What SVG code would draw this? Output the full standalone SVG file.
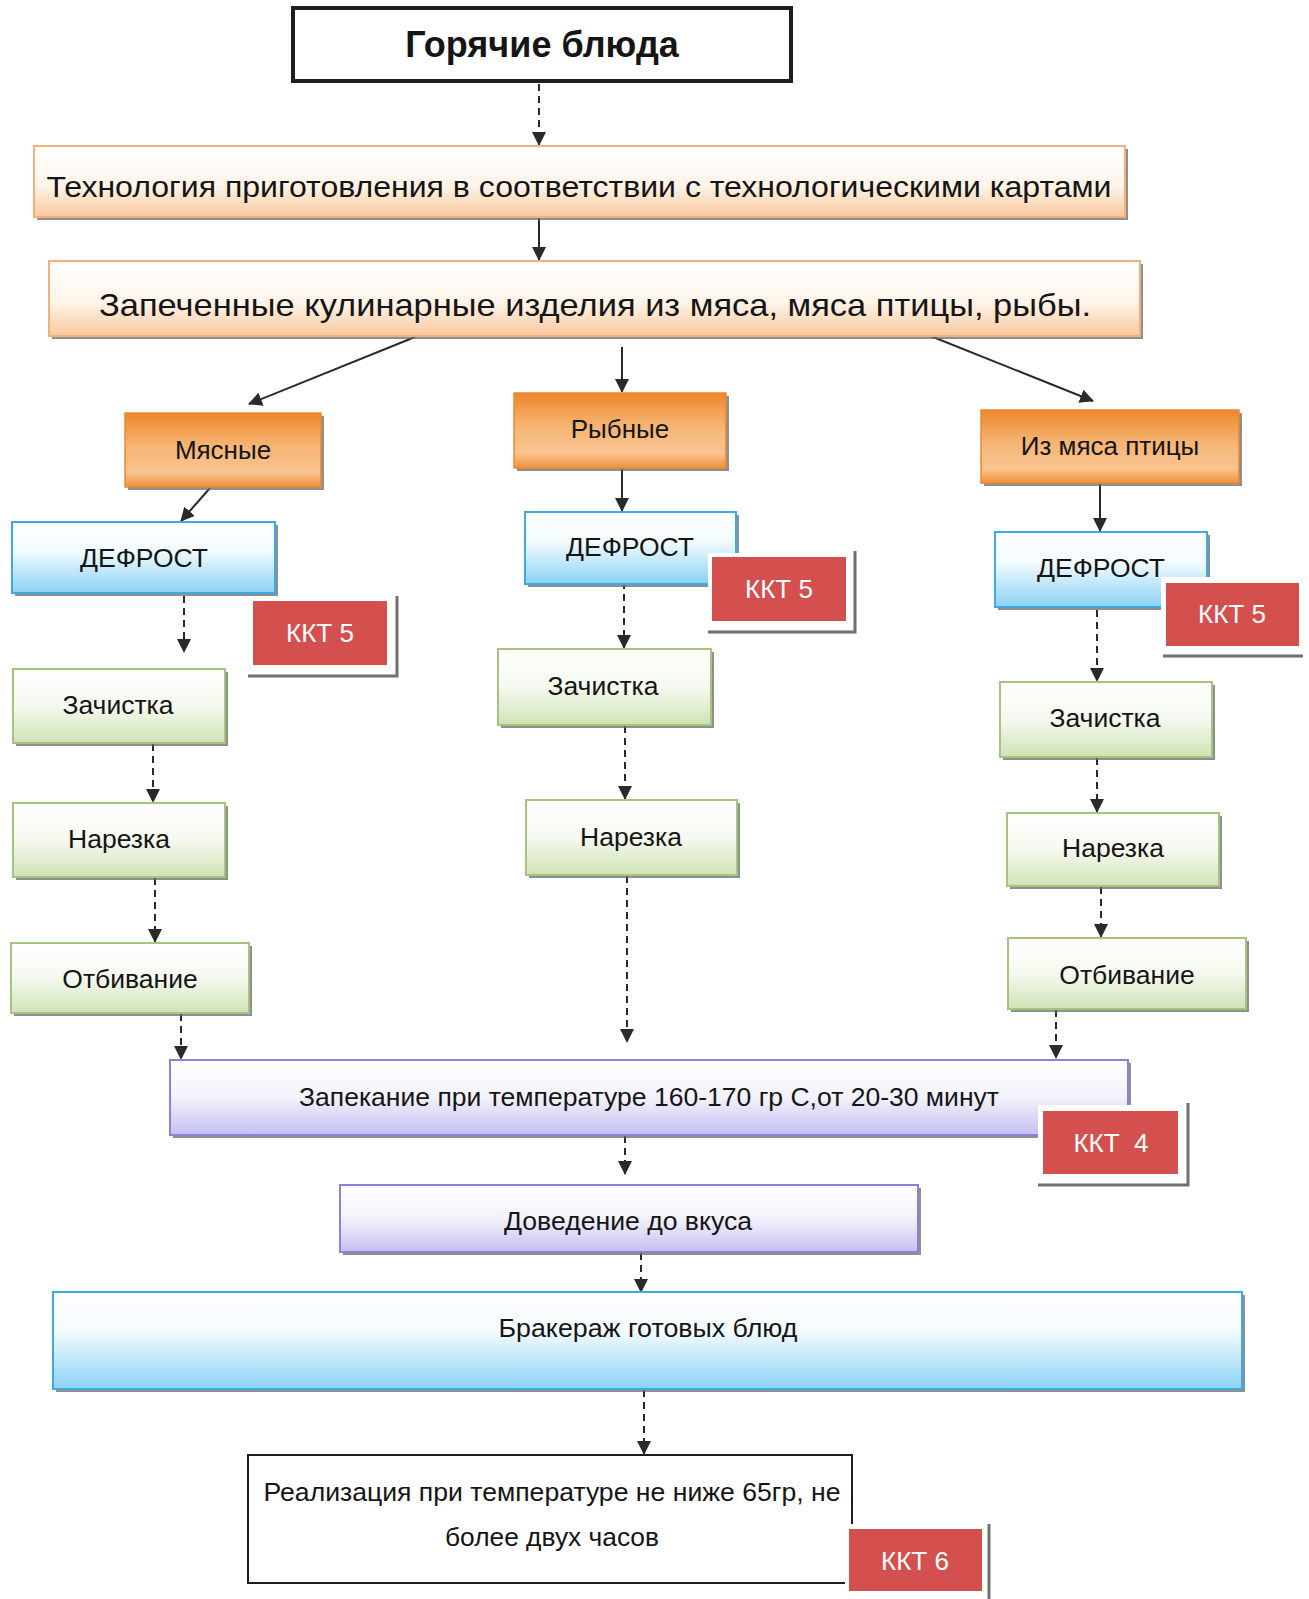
<svg xmlns="http://www.w3.org/2000/svg" width="1309" height="1599" viewBox="0 0 1309 1599">
  <style>
    text { font-family: "Liberation Sans", Arial, sans-serif; fill: #151515; text-anchor: middle; }
    .title { font-size: 36px; font-weight: bold; }
    .big { font-size: 30px; }
    .big2 { font-size: 32px; }
    .cat { font-size: 26px; }
    .step { font-size: 26.5px; }
    .mid { font-size: 26px; }
    .kkt { font-size: 26px; fill: #ffffff; }
    .shadow { fill: #6a6a6a; opacity: 0.75; }
    .peach { fill: url(#gPeach); stroke: #f2b07e; stroke-width: 2; }
    .orange { fill: url(#gOrange); stroke: #e98a30; stroke-width: 1.5; }
    .blue { fill: url(#gBlue); stroke: #3eaae4; stroke-width: 2; }
    .green { fill: url(#gGreen); stroke: #a6c47f; stroke-width: 2; }
    .purple { fill: url(#gPurple); stroke: #8a82da; stroke-width: 2; }
    .red { fill: #d4504f; }
    .frame { fill: #ffffff; }
    .frameEdge { stroke: #707070; stroke-width: 3; fill: none; }
    .solid { stroke: #2a2a2a; stroke-width: 2; fill: none; marker-end: url(#arrow); }
    .dash { stroke: #2a2a2a; stroke-width: 2; fill: none; stroke-dasharray: 7 5; marker-end: url(#arrow); }
  </style>
  <defs>
    <linearGradient id="gPeach" x1="0" y1="0" x2="0" y2="1">
      <stop offset="0" stop-color="#ffffff"/>
      <stop offset="0.55" stop-color="#fff4ea"/>
      <stop offset="1" stop-color="#f9c89c"/>
    </linearGradient>
    <linearGradient id="gOrange" x1="0" y1="0" x2="0" y2="1">
      <stop offset="0" stop-color="#ee862a"/>
      <stop offset="0.45" stop-color="#f6b575"/>
      <stop offset="0.8" stop-color="#f8c490"/>
      <stop offset="1" stop-color="#f0903a"/>
    </linearGradient>
    <linearGradient id="gBlue" x1="0" y1="0" x2="0" y2="1">
      <stop offset="0" stop-color="#ffffff"/>
      <stop offset="0.4" stop-color="#f3fbff"/>
      <stop offset="1" stop-color="#8cd2f4"/>
    </linearGradient>
    <linearGradient id="gGreen" x1="0" y1="0" x2="0" y2="1">
      <stop offset="0" stop-color="#ffffff"/>
      <stop offset="0.5" stop-color="#f5f9ef"/>
      <stop offset="1" stop-color="#cfe3b6"/>
    </linearGradient>
    <linearGradient id="gPurple" x1="0" y1="0" x2="0" y2="1">
      <stop offset="0" stop-color="#ffffff"/>
      <stop offset="0.5" stop-color="#f3f2fc"/>
      <stop offset="1" stop-color="#c5bef0"/>
    </linearGradient>
    <marker id="arrow" viewBox="0 0 14 14" refX="13" refY="7" markerWidth="14" markerHeight="14" markerUnits="userSpaceOnUse" orient="auto">
      <path d="M0,0 L14,7 L0,14 Z" fill="#2a2a2a"/>
    </marker>
  </defs>

  <!-- connectors -->
  <g id="connectors">
    <line class="dash" x1="539" y1="84" x2="539" y2="145"/>
    <line class="solid" x1="539" y1="218" x2="539" y2="260"/>
    <line class="solid" x1="415" y1="337" x2="249" y2="404"/>
    <line class="solid" x1="622" y1="347" x2="622" y2="392"/>
    <line class="solid" x1="928" y1="335" x2="1093" y2="401"/>
    <line class="solid" x1="210" y1="488" x2="181" y2="521"/>
    <line class="solid" x1="622" y1="469" x2="622" y2="511"/>
    <line class="solid" x1="1100" y1="484" x2="1100" y2="531"/>
    <line class="dash" x1="184" y1="596" x2="184" y2="652"/>
    <line class="dash" x1="153" y1="744" x2="153" y2="802"/>
    <line class="dash" x1="155" y1="878" x2="155" y2="942"/>
    <line class="dash" x1="181" y1="1014" x2="181" y2="1059"/>
    <line class="dash" x1="624" y1="582" x2="624" y2="648"/>
    <line class="dash" x1="625" y1="726" x2="625" y2="799"/>
    <line class="dash" x1="627" y1="876" x2="627" y2="1042"/>
    <line class="dash" x1="1097" y1="610" x2="1097" y2="681"/>
    <line class="dash" x1="1097" y1="758" x2="1097" y2="812"/>
    <line class="dash" x1="1101" y1="887" x2="1101" y2="937"/>
    <line class="dash" x1="1056" y1="1010" x2="1056" y2="1058"/>
    <line class="dash" x1="625" y1="1136" x2="625" y2="1174"/>
    <line class="dash" x1="641" y1="1253" x2="641" y2="1292"/>
    <line class="dash" x1="644" y1="1390" x2="644" y2="1454"/>
  </g>

  <!-- header -->
  <g id="hot-dishes">
    <rect x="293" y="8" width="498" height="73" fill="#ffffff" stroke="#1e1e1e" stroke-width="4"/>
    <text class="title" x="542" y="57">Горячие блюда</text>
  </g>

  <g id="technology">
    <rect class="shadow" x="37" y="149" width="1091" height="71"/>
    <rect class="peach" x="34" y="146" width="1091" height="71"/>
    <text class="big" x="579" y="197" textLength="1065" lengthAdjust="spacingAndGlyphs">Технология приготовления в соответствии с технологическими картами</text>
  </g>

  <g id="baked-products">
    <rect class="shadow" x="52" y="264" width="1091" height="75"/>
    <rect class="peach" x="49" y="261" width="1091" height="75"/>
    <text class="big2" x="595" y="316" textLength="992" lengthAdjust="spacingAndGlyphs">Запеченные кулинарные изделия из мяса, мяса птицы, рыбы.</text>
  </g>

  <!-- categories -->
  <g id="meat">
    <rect class="shadow" x="128" y="416" width="196" height="74"/>
    <rect class="orange" x="125" y="413" width="196" height="74"/>
    <text class="cat" x="223" y="459">Мясные</text>
  </g>
  <g id="fish">
    <rect class="shadow" x="517" y="396" width="212" height="75"/>
    <rect class="orange" x="514" y="393" width="212" height="75"/>
    <text class="cat" x="620" y="438">Рыбные</text>
  </g>
  <g id="poultry">
    <rect class="shadow" x="984" y="413" width="258" height="73"/>
    <rect class="orange" x="981" y="410" width="258" height="73"/>
    <text class="cat" x="1110" y="455">Из мяса птицы</text>
  </g>

  <!-- meat column -->
  <g id="meat-defrost">
    <rect class="shadow" x="15" y="525" width="263" height="71"/>
    <rect class="blue" x="12" y="522" width="263" height="71"/>
    <text class="step" x="144" y="567">ДЕФРОСТ</text>
  </g>
  <g id="meat-ccp5">
    <rect class="frame" x="248" y="598" width="149" height="78"/>
    <polyline class="frameEdge" points="397,596 397,676 248,676"/>
    <rect class="red" x="253" y="601" width="134" height="64"/>
    <text class="kkt" x="320" y="642">ККТ 5</text>
  </g>
  <g id="meat-cleaning">
    <rect class="shadow" x="16" y="672" width="212" height="74"/>
    <rect class="green" x="13" y="669" width="212" height="74"/>
    <text class="step" x="118" y="714">Зачистка</text>
  </g>
  <g id="meat-cutting">
    <rect class="shadow" x="16" y="806" width="212" height="74"/>
    <rect class="green" x="13" y="803" width="212" height="74"/>
    <text class="step" x="119" y="848">Нарезка</text>
  </g>
  <g id="meat-beating">
    <rect class="shadow" x="14" y="946" width="238" height="70"/>
    <rect class="green" x="11" y="943" width="238" height="70"/>
    <text class="step" x="130" y="988">Отбивание</text>
  </g>

  <!-- fish column -->
  <g id="fish-defrost">
    <rect class="shadow" x="528" y="515" width="211" height="72"/>
    <rect class="blue" x="525" y="512" width="211" height="72"/>
    <text class="step" x="630" y="556">ДЕФРОСТ</text>
  </g>
  <g id="fish-ccp5">
    <rect class="frame" x="708" y="553" width="147" height="79"/>
    <polyline class="frameEdge" points="855,551 855,632 708,632"/>
    <rect class="red" x="712" y="557" width="134" height="64"/>
    <text class="kkt" x="779" y="598">ККТ 5</text>
  </g>
  <g id="fish-cleaning">
    <rect class="shadow" x="501" y="652" width="213" height="76"/>
    <rect class="green" x="498" y="649" width="213" height="76"/>
    <text class="step" x="603" y="695">Зачистка</text>
  </g>
  <g id="fish-cutting">
    <rect class="shadow" x="529" y="803" width="211" height="75"/>
    <rect class="green" x="526" y="800" width="211" height="75"/>
    <text class="step" x="631" y="846">Нарезка</text>
  </g>

  <!-- poultry column -->
  <g id="poultry-defrost">
    <rect class="shadow" x="998" y="535" width="212" height="75"/>
    <rect class="blue" x="995" y="532" width="212" height="75"/>
    <text class="step" x="1101" y="577">ДЕФРОСТ</text>
  </g>
  <g id="poultry-ccp5">
    <rect class="frame" x="1161" y="577" width="142" height="81"/>
    <polyline class="frameEdge" points="1303,656 1163,656"/>
    <rect class="red" x="1166" y="583" width="133" height="63"/>
    <text class="kkt" x="1232" y="623">ККТ 5</text>
  </g>
  <g id="poultry-cleaning">
    <rect class="shadow" x="1003" y="685" width="212" height="75"/>
    <rect class="green" x="1000" y="682" width="212" height="75"/>
    <text class="step" x="1105" y="727">Зачистка</text>
  </g>
  <g id="poultry-cutting">
    <rect class="shadow" x="1010" y="816" width="212" height="73"/>
    <rect class="green" x="1007" y="813" width="212" height="73"/>
    <text class="step" x="1113" y="857">Нарезка</text>
  </g>
  <g id="poultry-beating">
    <rect class="shadow" x="1011" y="941" width="238" height="71"/>
    <rect class="green" x="1008" y="938" width="238" height="71"/>
    <text class="step" x="1127" y="984">Отбивание</text>
  </g>

  <!-- common steps -->
  <g id="baking">
    <rect class="shadow" x="173" y="1063" width="958" height="75"/>
    <rect class="purple" x="170" y="1060" width="958" height="75"/>
    <text class="mid" x="649" y="1106" textLength="700" lengthAdjust="spacingAndGlyphs">Запекание при температуре 160-170 гр С,от 20-30 минут</text>
  </g>
  <g id="baking-ccp4">
    <rect class="frame" x="1038" y="1105" width="150" height="80"/>
    <polyline class="frameEdge" points="1188,1103 1188,1185 1038,1185"/>
    <rect class="red" x="1043" y="1111" width="135" height="63"/>
    <text class="kkt" x="1111" y="1152" xml:space="preserve">ККТ  4</text>
  </g>
  <g id="seasoning">
    <rect class="shadow" x="343" y="1188" width="578" height="67"/>
    <rect class="purple" x="340" y="1185" width="578" height="67"/>
    <text class="mid" x="628" y="1230" textLength="248" lengthAdjust="spacingAndGlyphs">Доведение до вкуса</text>
  </g>
  <g id="quality-check">
    <rect class="shadow" x="56" y="1295" width="1189" height="97"/>
    <rect class="blue" x="53" y="1292" width="1189" height="97"/>
    <text class="mid" x="648" y="1337" textLength="299" lengthAdjust="spacingAndGlyphs">Бракераж готовых блюд</text>
  </g>
  <g id="serving">
    <rect x="248" y="1455" width="604" height="128" fill="#ffffff" stroke="#1e1e1e" stroke-width="2"/>
    <text class="mid" x="552" y="1501" textLength="577" lengthAdjust="spacingAndGlyphs">Реализация при температуре не ниже 65гр, не</text>
    <text class="mid" x="552" y="1546" textLength="214" lengthAdjust="spacingAndGlyphs">более двух часов</text>
  </g>
  <g id="serving-ccp6">
    <rect class="frame" x="845" y="1524" width="144" height="75"/>
    <line class="frameEdge" x1="989" y1="1524" x2="989" y2="1599"/>
    <rect class="red" x="849" y="1529" width="133" height="62"/>
    <text class="kkt" x="915" y="1570">ККТ 6</text>
  </g>
</svg>
